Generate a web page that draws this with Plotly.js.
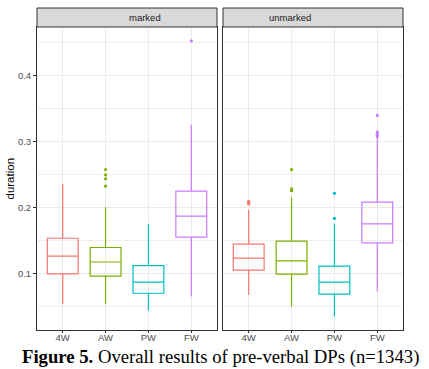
<!DOCTYPE html>
<html>
<head>
<meta charset="utf-8">
<script src="https://cdn.plot.ly/plotly-3.0.1.min.js"></script>
<style>
  html, body { margin: 0; padding: 0; background: #fff; }
  #chart { width: 429px; height: 369px; }
</style>
</head>
<body>
<div id="chart"></div>
<script>
// categories and panels
var groups = ['4W', 'AW', 'PW', 'FW'];
var panels = ['marked', 'unmarked'];

// box statistics (marked panel)
var markedLow    = [0.0545, 0.0545, 0.0444, 0.0656];
var markedQ1     = [0.1000, 0.0965, 0.0707, 0.1556];
var markedMedian = [0.1270, 0.1180, 0.0874, 0.1874];
var markedQ3     = [0.1540, 0.1400, 0.1126, 0.2253];
var markedHigh   = [0.2364, 0.2010, 0.1758, 0.3258];
var markedOutliers = [[], [0.233, 0.244, 0.250, 0.258], [], [0.453]];

// unmarked panel
var unmarkedLow    = [0.0682, 0.0505, 0.0353, 0.0732];
var unmarkedQ1     = [0.1056, 0.0995, 0.0692, 0.1470];
var unmarkedMedian = [0.1238, 0.1197, 0.0874, 0.1758];
var unmarkedQ3     = [0.1450, 0.1495, 0.1117, 0.2086];
var unmarkedHigh   = [0.1970, 0.2160, 0.1760, 0.3076];
var unmarkedOutliers = [[0.206, 0.208, 0.210], [0.226, 0.229, 0.258], [0.184, 0.222], [0.308, 0.310, 0.312, 0.315, 0.340]];

var yTicks = [0.1, 0.2, 0.3, 0.4];

var colors = ['#F8766D', '#7CAE00', '#00BFC4', '#C77CFF'];

var data = [];
function addPanel(low, q1, med, q3, high, outl, xa, ya) {
  for (var i = 0; i < groups.length; i++) {
    data.push({
      type: 'box',
      x: [groups[i]],
      lowerfence: [low[i]], q1: [q1[i]], median: [med[i]], q3: [q3[i]], upperfence: [high[i]],
      boxpoints: false,
      fillcolor: 'rgba(255,255,255,0)',
      line: { color: colors[i], width: 1.2 },
      whiskerwidth: 0,
      width: 0.72,
      xaxis: xa, yaxis: ya,
      showlegend: false
    });
    if (outl[i].length) {
      data.push({
        type: 'scatter', mode: 'markers',
        x: outl[i].map(function () { return groups[i]; }),
        y: outl[i],
        marker: { color: colors[i], size: 3.2 },
        xaxis: xa, yaxis: ya,
        showlegend: false
      });
    }
  }
}
addPanel(markedLow, markedQ1, markedMedian, markedQ3, markedHigh, markedOutliers, 'x', 'y');
addPanel(unmarkedLow, unmarkedQ1, unmarkedMedian, unmarkedQ3, unmarkedHigh, unmarkedOutliers, 'x2', 'y2');

var W = 429, H = 369;
var xd1 = [37 / W, 217 / W], xd2 = [223 / W, 403 / W];
var yd = [(H - 330) / H, (H - 27) / H];
var stripTop = (H - 8) / H;

function xAxis(dom, anchor) {
  return {
    domain: dom, anchor: anchor, type: 'category',
    categoryorder: 'array', categoryarray: groups,
    range: [-0.6, 3.6],
    showgrid: true, gridcolor: '#EBEBEB', gridwidth: 1,
    showline: true, mirror: true, linecolor: '#333333', linewidth: 1,
    ticks: 'outside', ticklen: 2, tickcolor: '#333333',
    ticklabelstandoff: -3,
    tickfont: { family: 'Liberation Sans, Arial, sans-serif', size: 9.5, color: '#4D4D4D' },
    zeroline: false, fixedrange: true
  };
}
function yAxis(dom, anchor, labels) {
  return {
    domain: dom, anchor: anchor, range: [0.015, 0.474],
    tickvals: yTicks, ticktext: yTicks.map(function (v) { return v.toFixed(1); }),
    showticklabels: labels,
    ticks: labels ? 'outside' : '', ticklen: 3, tickcolor: '#333333',
    tickfont: { family: 'Liberation Sans, Arial, sans-serif', size: 9.5, color: '#4D4D4D' },
    showgrid: true, gridcolor: '#EBEBEB', gridwidth: 1,
    minor: { tick0: 0.05, dtick: 0.1, showgrid: true, gridcolor: '#EBEBEB', gridwidth: 0.8 },
    showline: true, mirror: true, linecolor: '#333333', linewidth: 1,
    zeroline: false, fixedrange: true
  };
}

var layout = {
  width: W, height: H,
  margin: { l: 0, r: 0, t: 0, b: 0 },
  paper_bgcolor: '#ffffff', plot_bgcolor: '#ffffff',
  xaxis: xAxis(xd1, 'y'),
  yaxis: yAxis(yd, 'x', true),
  xaxis2: xAxis(xd2, 'y2'),
  yaxis2: yAxis(yd, 'x2', false),
  shapes: [
    { type: 'rect', xref: 'paper', yref: 'paper', x0: xd1[0], x1: xd1[1], y0: yd[1], y1: stripTop,
      fillcolor: '#D9D9D9', line: { color: '#333333', width: 1 } },
    { type: 'rect', xref: 'paper', yref: 'paper', x0: xd2[0], x1: xd2[1], y0: yd[1], y1: stripTop,
      fillcolor: '#D9D9D9', line: { color: '#333333', width: 1 } }
  ],
  annotations: [
    { xref: 'paper', yref: 'paper', x: (xd1[0] + xd1[1]) / 2, y: (yd[1] + stripTop) / 2,
      text: panels[0], showarrow: false, yanchor: 'middle',
      font: { family: 'Liberation Sans, Arial, sans-serif', size: 9.5, color: '#1A1A1A' } },
    { xref: 'paper', yref: 'paper', x: (xd2[0] + xd2[1]) / 2, y: (yd[1] + stripTop) / 2,
      text: panels[1], showarrow: false, yanchor: 'middle',
      font: { family: 'Liberation Sans, Arial, sans-serif', size: 9.5, color: '#1A1A1A' } },
    { xref: 'paper', yref: 'paper', x: 9 / W, y: (yd[0] + yd[1]) / 2,
      text: 'duration', showarrow: false, textangle: -90, xanchor: 'center', yanchor: 'middle',
      font: { family: 'Liberation Sans, Arial, sans-serif', size: 11.5, color: '#000000' } },
    { xref: 'paper', yref: 'paper', x: 220.5 / W, y: (H - 357) / H,
      text: '<b>Figure 5.</b> Overall results of pre-verbal DPs (n=1343)', showarrow: false,
      xanchor: 'center', yanchor: 'middle', borderpad: 0,
      font: { family: 'Liberation Serif, Times New Roman, serif', size: 18.7, color: '#000000' } }
  ]
};

Plotly.newPlot('chart', data, layout, { displayModeBar: false, staticPlot: true });
</script>
</body>
</html>
